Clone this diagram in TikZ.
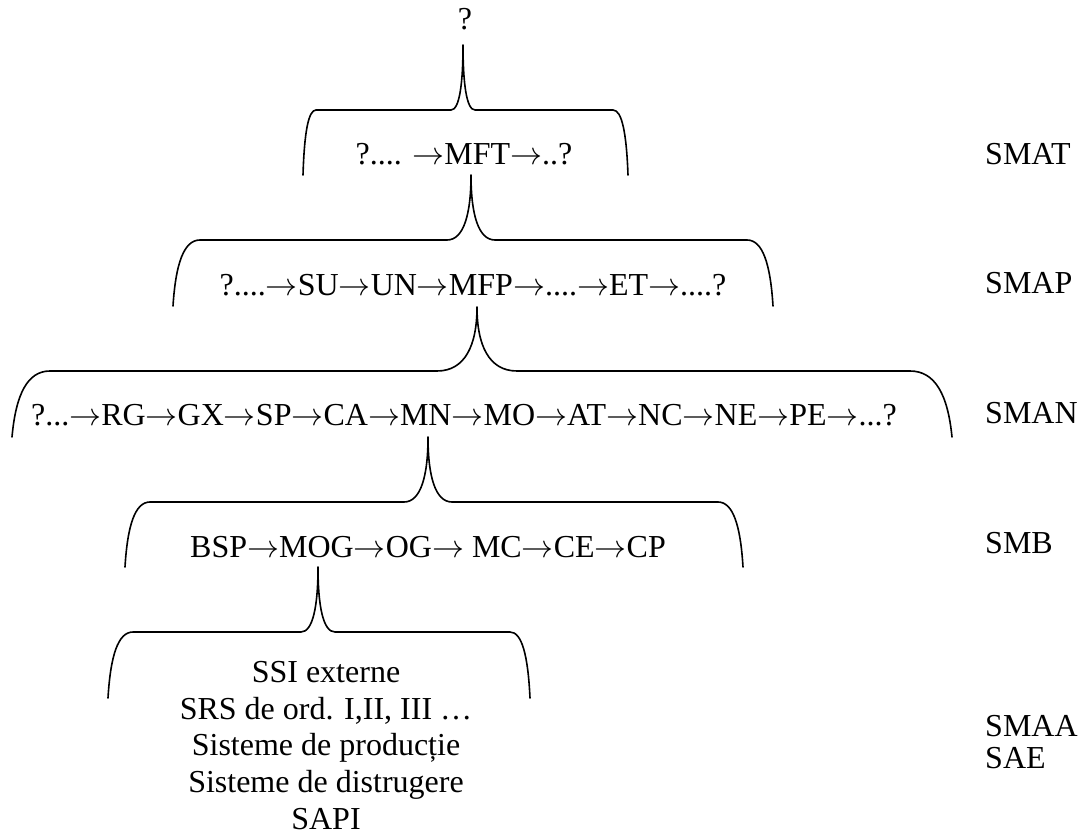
\documentclass[tikz,border=0pt]{standalone}
\usepackage{fix-cm}
\usepackage{fontspec}
\setmainfont{Liberation Serif}
\usetikzlibrary{calc}
\newcommand{\ra}{\ensuremath{\rightarrow}}
\newcommand{\mybrace}[9]{% xl, xr, ybot, ytop, xcusp, ytip, halfw, cornerL, cornerR
  \draw[bracestyle] (#1,#3)
    .. controls ({#1+0.1*#8},{#4+0.36*(#3-#4)}) and ({#1+0.4*#8},#4) .. ({#1+#8},#4)
    -- ({#5-#7},#4)
    .. controls ({#5-0.3*#7},#4) and (#5,{#4-0.4*(#4-#6)}) .. (#5,#6)
    .. controls (#5,{#4-0.4*(#4-#6)}) and ({#5+0.3*#7},#4) .. ({#5+#7},#4)
    -- ({#2-#9},#4)
    .. controls ({#2-0.4*#9},#4) and ({#2-0.1*#9},{#4+0.36*(#3-#4)}) .. (#2,#3);}
\begin{document}
\begin{tikzpicture}[x=1pt,y=-1pt,
  bracestyle/.style={line width=1.6pt,line cap=round,line join=round},
  txt/.style={inner sep=0pt,anchor=base,font=\fontsize{32}{36.8}\selectfont},
  lbl/.style={inner sep=0pt,anchor=base west,font=\fontsize{32}{36.8}\selectfont}]
\useasboundingbox (0,0) rectangle (1079,837);
% texts
\node[txt] (top) at (465,30) {?};
\node[txt] (r1) at (464,165) {?.... \ra MFT\ra..?};
\node[txt] (r2) at (473,295) {?....\ra SU\ra UN\ra MFP\ra....\ra ET\ra....?};
\node[txt] (r3) at (464,425) {?...\ra RG\ra GX\ra SP\ra CA\ra MN\ra MO\ra AT\ra NC\ra NE\ra PE\ra...?};
\node[txt] (r4) at (428,557) {BSP\ra MOG\ra OG\ra{} MC\ra CE\ra CP};
\node[txt,anchor=north,align=center] (r5) at (326,661) {SSI externe\\SRS de ord. I,II, III …\\Sisteme de producție\\Sisteme de distrugere\\SAPI};
% level labels
\node[lbl] (smat) at (985,165) {SMAT};
\node[lbl] (smap) at (985,293) {SMAP};
\node[lbl] (sman) at (985,423) {SMAN};
\node[lbl] (smb) at (985,553) {SMB};
\node[lbl] (smaa) at (985,736) {SMAA};
\node[lbl] (sae) at (985,768) {SAE};
% braces
\mybrace{303}{628}{175}{110}{463}{45}{12}{13}{15}
\mybrace{173}{773}{306}{240}{471}{175}{24}{27}{26}
\mybrace{12}{952}{437}{371}{477}{307}{40}{38}{42}
\mybrace{125}{743}{567}{502}{428}{437}{24}{25}{25}
\mybrace{108}{530}{698}{632}{318}{567}{17}{25}{20}
\end{tikzpicture}
\end{document}
